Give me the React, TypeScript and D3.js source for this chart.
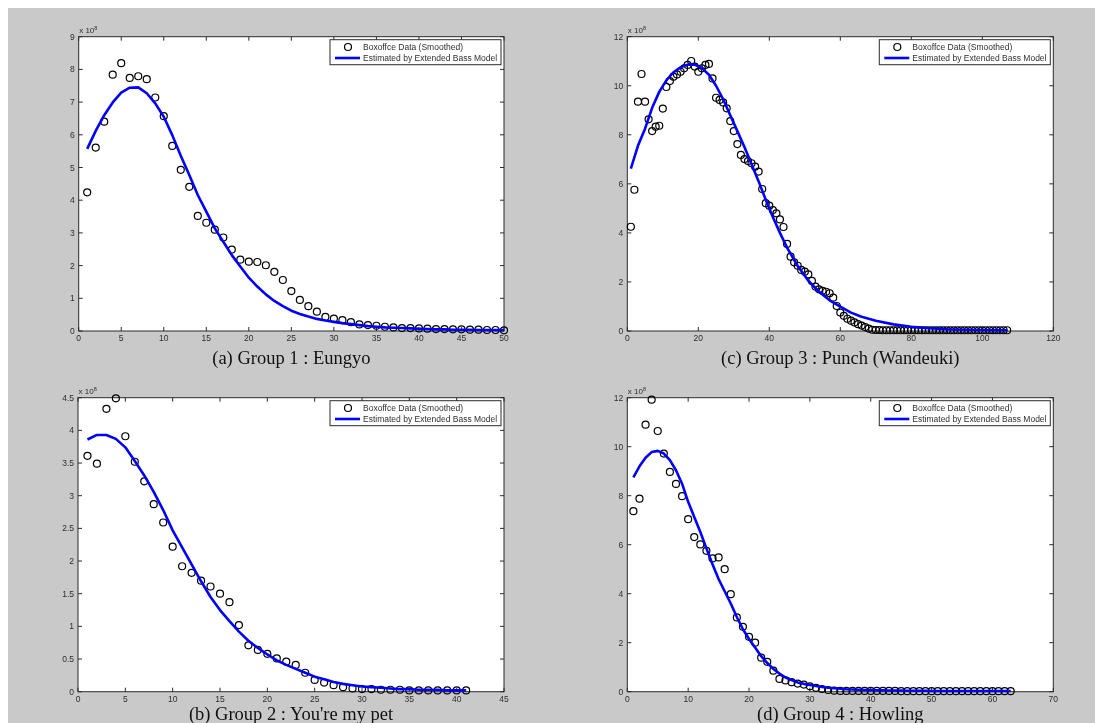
import React, { useEffect } from "react";
import * as d3 from "d3";

// ---------- Data (values in units of 10^8) ----------
const eungyoData = [
  4.24, 5.61, 6.40, 7.84, 8.19, 7.74, 7.79, 7.70, 7.14, 6.57,
  5.66, 4.93, 4.41, 3.52, 3.31, 3.10, 2.86, 2.49, 2.18, 2.12,
  2.11, 2.01, 1.81, 1.56, 1.22, 0.95, 0.76, 0.59, 0.43, 0.38,
  0.33, 0.27, 0.20, 0.18, 0.16, 0.13, 0.11, 0.09, 0.09, 0.08,
  0.07, 0.06, 0.06, 0.05, 0.05, 0.04, 0.04, 0.03, 0.03, 0.02,
];
const eungyoFit = [
  5.57, 6.12, 6.60, 6.99, 7.29, 7.44, 7.45, 7.27, 6.96, 6.55,
  5.99, 5.36, 4.77, 4.16, 3.65, 3.14, 2.73, 2.32, 1.97, 1.63,
  1.36, 1.12, 0.92, 0.76, 0.62, 0.52, 0.44, 0.37, 0.32, 0.28,
  0.24, 0.21, 0.18, 0.15, 0.13, 0.11, 0.10, 0.09, 0.08, 0.07,
  0.06, 0.05, 0.05, 0.04, 0.04, 0.04, 0.03, 0.03, 0.03, 0.03,
];

const petData = [
  3.61, 3.49, 4.33, 4.49, 3.91, 3.52, 3.22, 2.87, 2.59, 2.22,
  1.92, 1.82, 1.70, 1.61, 1.50, 1.37, 1.02, 0.71, 0.64, 0.58,
  0.51, 0.46, 0.41, 0.29, 0.18, 0.14, 0.10, 0.07, 0.05, 0.04,
  0.04, 0.03, 0.03, 0.03, 0.02, 0.02, 0.02, 0.02, 0.02, 0.02, 0.02,
];
const petFit = [
  3.86, 3.93, 3.93, 3.87, 3.74, 3.53, 3.31, 3.06, 2.78, 2.47,
  2.21, 1.95, 1.69, 1.45, 1.25, 1.08, 0.92, 0.78, 0.67, 0.57,
  0.48, 0.41, 0.35, 0.29, 0.23, 0.19, 0.15, 0.12, 0.10, 0.08,
  0.07, 0.06, 0.05, 0.04, 0.04, 0.03, 0.03, 0.03, 0.02, 0.02, 0.02,
];

const punchData = [
  4.25, 5.76, 9.35, 10.48, 9.35, 8.63, 8.15, 8.33, 8.37, 9.07,
  9.95, 10.19, 10.37, 10.46, 10.57, 10.71, 10.85, 11.01, 10.78, 10.57,
  10.71, 10.85, 10.89, 10.30, 9.51, 9.42, 9.32, 9.08, 8.56, 8.15,
  7.62, 7.18, 7.01, 6.93, 6.84, 6.70, 6.50, 5.79, 5.21, 5.11,
  4.93, 4.80, 4.55, 4.24, 3.55, 3.03, 2.80, 2.66, 2.49, 2.42,
  2.31, 2.04, 1.81, 1.70, 1.64, 1.60, 1.54, 1.36, 1.02, 0.75,
  0.62, 0.50, 0.42, 0.35, 0.28, 0.22, 0.16, 0.10, 0.05, 0.04,
  0.04, 0.03, 0.03, 0.03, 0.03, 0.03, 0.03, 0.03, 0.03, 0.03,
  0.03, 0.03, 0.03, 0.03, 0.03, 0.03, 0.03, 0.03, 0.03, 0.03,
  0.03, 0.03, 0.03, 0.03, 0.03, 0.03, 0.03, 0.03, 0.03, 0.03,
  0.03, 0.03, 0.03, 0.03, 0.03, 0.03, 0.03,
];
const punchFitDays = [
  1, 3, 5, 7, 9, 11, 13, 15, 17, 19, 21, 23, 25, 27, 29, 31, 33, 35, 37, 39,
  41, 43, 45, 48, 51, 54, 57, 60, 63, 66, 70, 75, 80, 85, 90, 95, 100, 107,
];
const punchFit = [
  6.62, 7.55, 8.25, 9.10, 9.75, 10.22, 10.55, 10.75, 10.86, 10.86, 10.72, 10.45, 10.00, 9.45, 8.80, 8.15, 7.50, 6.80, 6.10, 5.35,
  4.65, 4.00, 3.40, 2.65, 2.05, 1.60, 1.25, 0.99, 0.75, 0.58, 0.42, 0.27, 0.17, 0.11, 0.07, 0.05, 0.04, 0.03,
];

const howlingData = [
  7.37, 7.88, 10.90, 11.92, 10.64, 9.72, 8.97, 8.48, 7.98, 7.04,
  6.31, 6.01, 5.75, 5.44, 5.48, 5.00, 3.98, 3.03, 2.65, 2.24,
  2.00, 1.39, 1.22, 0.86, 0.52, 0.46, 0.39, 0.33, 0.29, 0.22,
  0.16, 0.11, 0.07, 0.04, 0.03, 0.03, 0.03, 0.03, 0.03, 0.03,
  0.03, 0.03, 0.03, 0.03, 0.02, 0.02, 0.02, 0.02, 0.02, 0.02,
  0.02, 0.02, 0.02, 0.02, 0.02, 0.02, 0.02, 0.02, 0.02, 0.02,
  0.02, 0.02, 0.02,
];
const howlingFit = [
  8.75, 9.20, 9.55, 9.78, 9.83, 9.72, 9.45, 9.04, 8.49, 7.75,
  7.13, 6.52, 5.85, 5.20, 4.60, 4.10, 3.60, 3.05, 2.55, 2.15,
  1.80, 1.45, 1.17, 0.93, 0.74, 0.58, 0.48, 0.38, 0.32, 0.27,
  0.23, 0.19, 0.16, 0.14, 0.12, 0.10, 0.09, 0.08, 0.07, 0.07,
  0.06, 0.06, 0.05, 0.05, 0.05, 0.04, 0.04, 0.04, 0.04, 0.03,
  0.03, 0.03, 0.03, 0.03, 0.03, 0.03, 0.03, 0.03, 0.03, 0.03,
  0.03, 0.03, 0.03,
];

// axis ticks
const eungyoXTicks = [0, 5, 10, 15, 20, 25, 30, 35, 40, 45, 50];
const eungyoYTicks = [0, 1, 2, 3, 4, 5, 6, 7, 8, 9];
const punchXTicks = [0, 20, 40, 60, 80, 100, 120];
const punchYTicks = [0, 2, 4, 6, 8, 10, 12];
const petXTicks = [0, 5, 10, 15, 20, 25, 30, 35, 40, 45];
const petYTicks = [0, 0.5, 1, 1.5, 2, 2.5, 3, 3.5, 4, 4.5];
const howlingXTicks = [0, 10, 20, 30, 40, 50, 60, 70];
const howlingYTicks = [0, 2, 4, 6, 8, 10, 12];

const captions = [
  "(a) Group 1 : Eungyo",
  "(c) Group 3 : Punch (Wandeuki)",
  "(b) Group 2 : You're my pet",
  "(d) Group 4 : Howling",
];
const legendLabels = ["Boxoffce Data (Smoothed)", "Estimated by Extended Bass Model"];
const exponentLabel = "8";

// ---------- Layout ----------
const W = 1087;
const H = 715;
const OFF = 8;

type PanelSpec = {
  box: { l: number; r: number; t: number; b: number };
  data: number[];
  fitX: number[];
  fitY: number[];
  xTicks: number[];
  yTicks: number[];
  caption: string;
  captionY: number;
};

const panels: PanelSpec[] = [
  {
    box: { l: 78.7 - OFF, r: 504 - OFF, t: 36.7 - OFF, b: 331 - OFF },
    data: eungyoData,
    fitX: eungyoFit.map((_, i) => i + 1),
    fitY: eungyoFit,
    xTicks: eungyoXTicks,
    yTicks: eungyoYTicks,
    caption: captions[0],
    captionY: 363.5 - OFF,
  },
  {
    box: { l: 627.3 - OFF, r: 1053.3 - OFF, t: 36.7 - OFF, b: 331 - OFF },
    data: punchData,
    fitX: punchFitDays,
    fitY: punchFit,
    xTicks: punchXTicks,
    yTicks: punchYTicks,
    caption: captions[1],
    captionY: 364 - OFF,
  },
  {
    box: { l: 78 - OFF, r: 504 - OFF, t: 397.7 - OFF, b: 691.7 - OFF },
    data: petData,
    fitX: petFit.map((_, i) => i + 1),
    fitY: petFit,
    xTicks: petXTicks,
    yTicks: petYTicks,
    caption: captions[2],
    captionY: 720 - OFF,
  },
  {
    box: { l: 627.3 - OFF, r: 1053.3 - OFF, t: 397.7 - OFF, b: 691.7 - OFF },
    data: howlingData,
    fitX: howlingFit.map((_, i) => i + 1),
    fitY: howlingFit,
    xTicks: howlingXTicks,
    yTicks: howlingYTicks,
    caption: captions[3],
    captionY: 720 - OFF,
  },
];

const AX = "#2b2b2b";
const TXT = "#2e2e2e";
const SANS = "'Liberation Sans', Arial, Helvetica, sans-serif";
const SERIF = "'Liberation Serif', 'Times New Roman', serif";

function Panel({ p }: { p: PanelSpec }) {
  const { l, r, t, b } = p.box;
  const x = d3.scaleLinear().domain([p.xTicks[0], p.xTicks[p.xTicks.length - 1]]).range([l, r]);
  const y = d3.scaleLinear().domain([p.yTicks[0], p.yTicks[p.yTicks.length - 1]]).range([b, t]);
  const line = d3
    .line<number>()
    .x((_, i) => x(p.fitX[i]))
    .y((d) => y(d));
  const tl = 4;
  const lx = r - 171 - 3;
  const ly = t + 3;
  return (
    <g>
      <rect x={l} y={t} width={r - l} height={b - t} fill="#ffffff" />
      {p.xTicks.map((v, i) => (
        <g key={"xt" + i}>
          <line x1={x(v)} x2={x(v)} y1={b} y2={b - tl} stroke={AX} strokeWidth={1} />
          <line x1={x(v)} x2={x(v)} y1={t} y2={t + tl} stroke={AX} strokeWidth={1} />
          <text x={x(v)} y={b + 10} textAnchor="middle" fontFamily={SANS} fontSize={8.5} fill={TXT}>
            {String(v)}
          </text>
        </g>
      ))}
      {p.yTicks.map((v, i) => (
        <g key={"yt" + i}>
          <line x1={l} x2={l + tl} y1={y(v)} y2={y(v)} stroke={AX} strokeWidth={1} />
          <line x1={r} x2={r - tl} y1={y(v)} y2={y(v)} stroke={AX} strokeWidth={1} />
          <text x={l - 4} y={y(v) + 3} textAnchor="end" fontFamily={SANS} fontSize={8.5} fill={TXT}>
            {String(v)}
          </text>
        </g>
      ))}
      <rect x={l} y={t} width={r - l} height={b - t} fill="none" stroke={AX} strokeWidth={1} />
      <text x={l + 0.5} y={t - 3.5} fontFamily={SANS} fontSize={8} fill={TXT}>
        {"x 10"}
        <tspan dy={-3.5} fontSize={5.5}>
          {exponentLabel}
        </tspan>
      </text>
      {p.data.map((v, i) => (
        <circle key={"c" + i} cx={x(i + 1)} cy={y(v)} r={3.5} fill="none" stroke="#000" strokeWidth={1.2} />
      ))}
      <path d={line(p.fitY) || ""} fill="none" stroke="#0000ff" strokeWidth={2.6} strokeLinejoin="round" />
      <g>
        <rect x={lx} y={ly} width={171} height={25} fill="#ffffff" stroke={AX} strokeWidth={1} />
        <circle cx={lx + 18} cy={ly + 7.3} r={3.5} fill="none" stroke="#000" strokeWidth={1.2} />
        <line x1={lx + 5} x2={lx + 30} y1={ly + 18.3} y2={ly + 18.3} stroke="#0000ff" strokeWidth={2.6} />
        <text x={lx + 33} y={ly + 10.2} fontFamily={SANS} fontSize={8.5} fill={TXT}>
          {legendLabels[0]}
        </text>
        <text x={lx + 33} y={ly + 21.2} fontFamily={SANS} fontSize={8.5} fill={TXT}>
          {legendLabels[1]}
        </text>
      </g>
      <text x={(l + r) / 2} y={p.captionY} textAnchor="middle" fontFamily={SERIF} fontSize={18.5} fill="#111">
        {p.caption}
      </text>
    </g>
  );
}

export default function App() {
  useEffect(() => {
    document.documentElement.style.overflow = "hidden";
    document.body.style.overflow = "hidden";
  }, []);
  return (
    <svg
      width={W}
      height={H}
      style={{ display: "block", position: "fixed", left: 8, top: 8, overflow: "visible" }}
    >
      <rect x={0} y={0} width={W} height={H} fill="#c9c9c9" />
      {panels.map((p, i) => (
        <Panel key={i} p={p} />
      ))}
    </svg>
  );
}
